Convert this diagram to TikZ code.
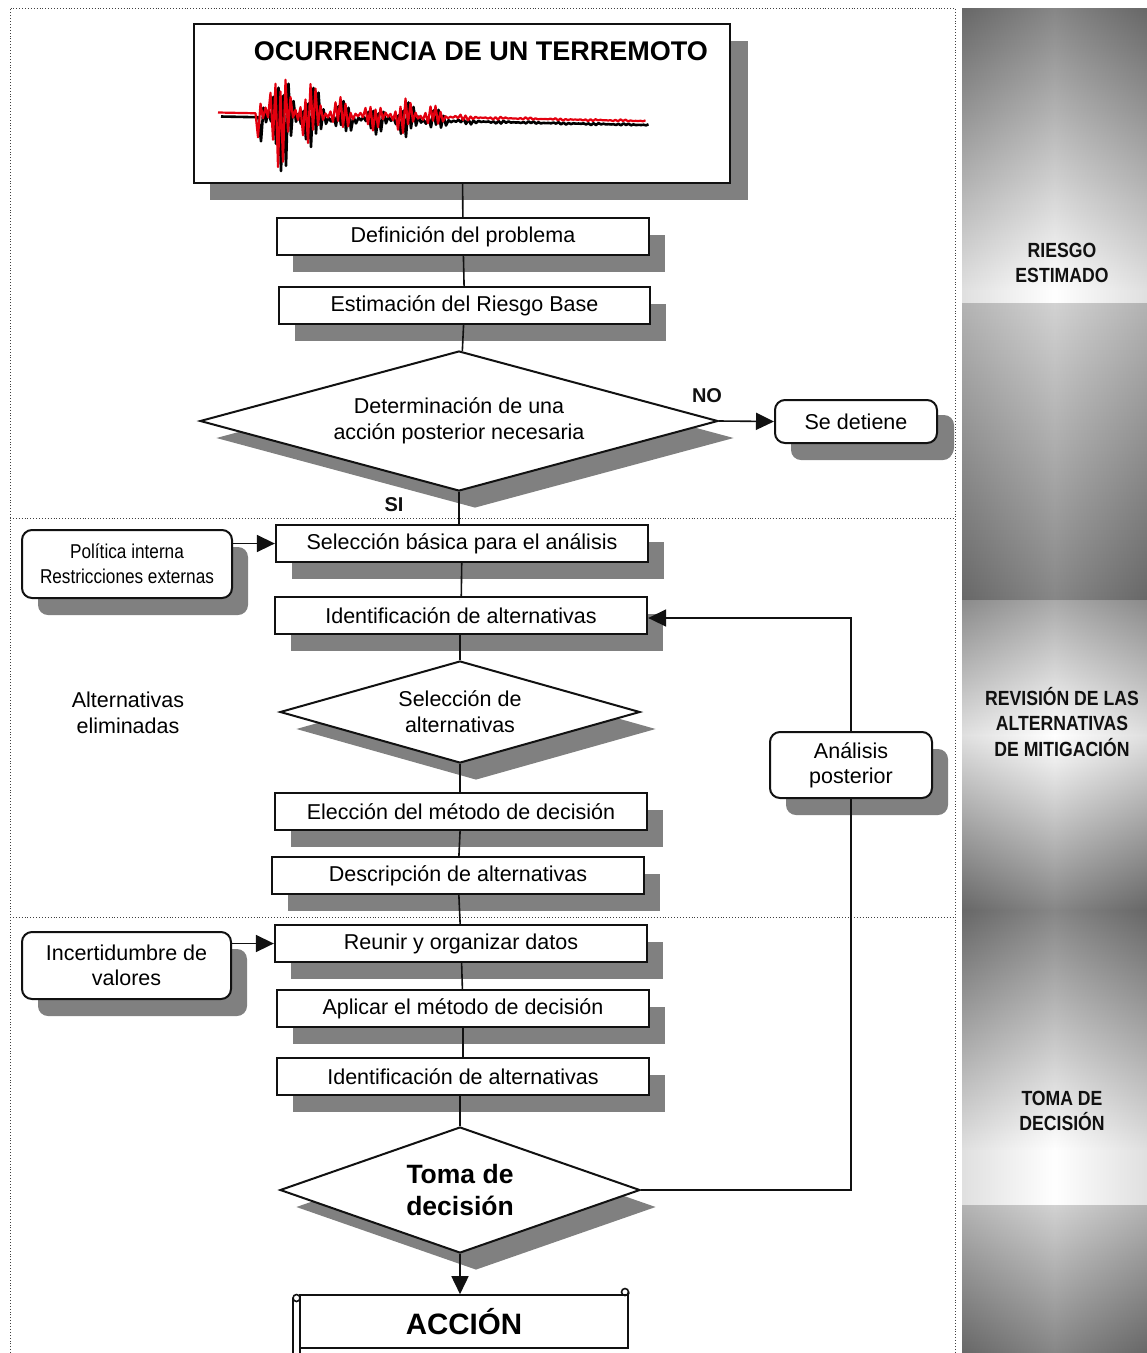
\documentclass[tikz,border=0pt]{standalone}
\usepackage{fontspec}
\setmainfont{Liberation Sans}
\newfontfamily\narrowfont[FakeStretch=0.86]{Liberation Sans}
\usepackage{xcolor}
\definecolor{quakeRed}{HTML}{E3000F}
\definecolor{quakeInk}{HTML}{111111}
\definecolor{shadowGray}{HTML}{808080}
\definecolor{bandDark}{HTML}{767676}
\usetikzlibrary{arrows.meta, shapes.geometric, shadows}

\begin{document}
\begin{tikzpicture}[
  x=1pt, y=-1pt,
  shade box/.style = {drop shadow={shadow xshift=16pt, shadow yshift=-17pt,
                      fill=shadowGray, opacity=1}},
  box/.style = {rectangle, draw=quakeInk, line width=2.3pt, fill=white,
                minimum width=372pt, minimum height=37pt, inner sep=0pt,
                font=\fontsize{21.5}{26}\selectfont, align=center, shade box},
  note/.style = {rectangle, rounded corners=10pt, draw=quakeInk, line width=2pt,
                 fill=white, inner sep=0pt, align=center,
                 font=\fontsize{21.5}{25}\selectfont, shade box},
  decision/.style = {diamond, draw=quakeInk, line width=2pt, fill=white,
                     inner sep=0pt, align=center,
                     font=\fontsize{21.5}{26}\selectfont, shade box},
  tag/.style = {font=\bfseries\fontsize{20}{24}\selectfont, text=quakeInk},
  phase/.style = {font=\narrowfont\bfseries\fontsize{20.5}{25.5}\selectfont,
                  align=center, text=quakeInk},
  frame/.style = {dotted, line width=0.9pt, draw=black!75},
  link/.style = {line width=1.6pt, draw=quakeInk},
  arrow/.style = {link, -{Triangle[length=18pt, width=17pt]}},
  scrollline/.style = {line width=1.6pt, draw=quakeInk},
]
\useasboundingbox (0,0) rectangle (1147,1353);

% Phase band on the right
\shade[top color=bandDark, bottom color=white] (962,8) rectangle (1147,290.5);
\fill[white] (962,290) rectangle (1147,303.5);
\shade[top color=black!20, bottom color=bandDark] (962,303) rectangle (1147,600.5);
\shade[top color=black!38, bottom color=white] (962,600) rectangle (1147,735.5);
\shade[top color=white, bottom color=bandDark] (962,735) rectangle (1147,910.5);
\shade[top color=bandDark, bottom color=white] (962,910) rectangle (1147,1150.5);
\fill[white] (962,1150) rectangle (1147,1205.5);
\shade[top color=black!20, bottom color=bandDark] (962,1205) rectangle (1147,1353);
\shade[left color=black, right color=black, middle color=white, opacity=0.12]
  (962,8) rectangle (1147,1353);

\node[phase] (riskphase)   at (1062,263) {RIESGO\\ESTIMADO};
\node[phase] (reviewphase) at (1062,722) {REVISIÓN DE LAS\\ALTERNATIVAS\\DE MITIGACIÓN};
\node[phase] (choosephase) at (1062,1111) {TOMA DE\\DECISIÓN};

% Dotted frame and stage separators
\draw[frame] (10,1353) -- (10,8) -- (955,8) -- (955,1353);
\draw[frame] (10,518) -- (955,518);
\draw[frame] (10,917) -- (955,917);

% Earthquake
\node[box, minimum width=536pt, minimum height=159pt,
      drop shadow={shadow xshift=18pt, shadow yshift=-17pt,
                   fill=shadowGray, opacity=1}] (quake) at (462,103.5) {};
\node[font=\bfseries\fontsize{27}{32}\selectfont, anchor=base] (quaketitle)
      at (481,60) {OCURRENCIA DE UN TERREMOTO};
\foreach \ink/\dx/\dy/\lw in {black/3/4/2.6, quakeRed/0/0/2.2}
  \draw[\ink, line width=\lw pt, line join=round, shift={(\dx,\dy)}]
    plot[samples at={0,...,171}]
    ({218+2.5*\x}, {112.5+0.05*\x+((\x>15.5)*(55*exp(-max(2.5*\x-70,0)/45)
      +15*exp(-((2.5*\x-190)/35)*((2.5*\x-190)/35))+1.2))
      *(1-2*mod(\x,2))*(0.3+0.7*abs(sin(71*\x+17)))*(0.55+0.45*cos(29*\x))});

% Risk estimate
\node[box] (define)   at (463,236.5) {Definición del problema};
\node[box, minimum width=371pt] (estimate) at (464.5,305.5)
      {Estimación del Riesgo Base};
\node[decision, aspect=3.7, minimum width=518pt, minimum height=140pt] (assess)
      at (459,421) {Determinación de una\\acción posterior necesaria};
\node[note, minimum width=162pt, minimum height=43pt,
      drop shadow={shadow xshift=17pt, shadow yshift=-15pt,
                   fill=shadowGray, opacity=1}] (halt)
      at (856,421.5) {Se detiene};
\node[tag] (nolabel) at (707,396) {NO};
\node[tag] (silabel) at (394,505) {SI};

% Review of alternatives
\node[box] (select)   at (462,543.5) {Selección básica para el análisis};
\node[note, minimum width=210pt, minimum height=68pt,
      font=\narrowfont\fontsize{20}{25}\selectfont] (policy)
      at (127,564) {Política interna\\Restricciones externas};
\node[box] (identify) at (461,615.5) {Identificación de alternativas};
\node[decision, aspect=3.53, minimum width=360pt, minimum height=102pt] (filter)
      at (460,712) {Selección de\\alternativas};
\node[font=\fontsize{21.5}{26}\selectfont, align=center] (dropped)
      at (128,713) {Alternativas\\eliminadas};
\node[box] (method)   at (461,811.5) {Elección del método de decisión};
\node[box] (describe) at (458,875.5) {Descripción de alternativas};
\node[note, minimum width=162pt, minimum height=66pt] (further)
      at (851,765) {Análisis\\posterior};

% Decision making
\node[box] (gather)   at (461,943.5) {Reunir y organizar datos};
\node[note, minimum width=209pt, minimum height=67pt] (doubt)
      at (126.5,965.5) {Incertidumbre de\\valores};
\node[box] (apply)    at (463,1008.5) {Aplicar el método de decisión};
\node[box] (identifyagain) at (463,1076.5) {Identificación de alternativas};
\node[decision, aspect=2.86, minimum width=360pt, minimum height=126pt,
      font=\bfseries\fontsize{26.5}{32}\selectfont] (choose)
      at (460,1190) {Toma de\\decisión};
\node[rectangle, draw=quakeInk, line width=1.6pt, fill=white,
      minimum width=328pt, minimum height=53pt, inner sep=0pt,
      font=\bfseries\fontsize{29.5}{34}\selectfont] (action)
      at (464,1321.5) {ACCIÓN};

% Scroll ends of the action box
\draw[scrollline] (296.5,1298) circle[radius=3.5];
\draw[scrollline] (293,1298) -- (293,1353);
\draw[scrollline] (300,1298) -- (300,1353);
\draw[scrollline] (625,1292) circle[radius=3.5];
\draw[scrollline] (628.5,1292) -- (action.north east);

% Arrows
\draw[link]  (quake)    -- (define);
\draw[link]  (define)   -- (estimate);
\draw[link]  (estimate) -- (assess);
\draw[arrow] (assess.east) -- (halt.west);
\draw[link]  (assess.south) -- (assess.south |- select.north);
\draw[arrow] (policy.east |- select.west) -- (select.west);
\draw[link]  (select)   -- (identify);
\draw[link]  (identify.south -| filter.north) -- (filter.north);
\draw[link]  (filter.south) -- (filter.south |- method.north);
\draw[link]  (method)   -- (describe);
\draw[link]  (describe) -- (gather);
\draw[arrow] (doubt.east |- gather.west) -- (gather.west);
\draw[link]  (gather)   -- (apply);
\draw[link]  (apply)    -- (identifyagain);
\draw[link]  (identifyagain.south -| choose.north) -- (choose.north);
\draw[arrow] (choose.south) -- (choose.south |- action.north);
\draw[link]  (choose.east) -| (further.south);
\draw[arrow] (further.north) |- ([yshift=-2.5pt]identify.east);

\end{tikzpicture}
\end{document}
